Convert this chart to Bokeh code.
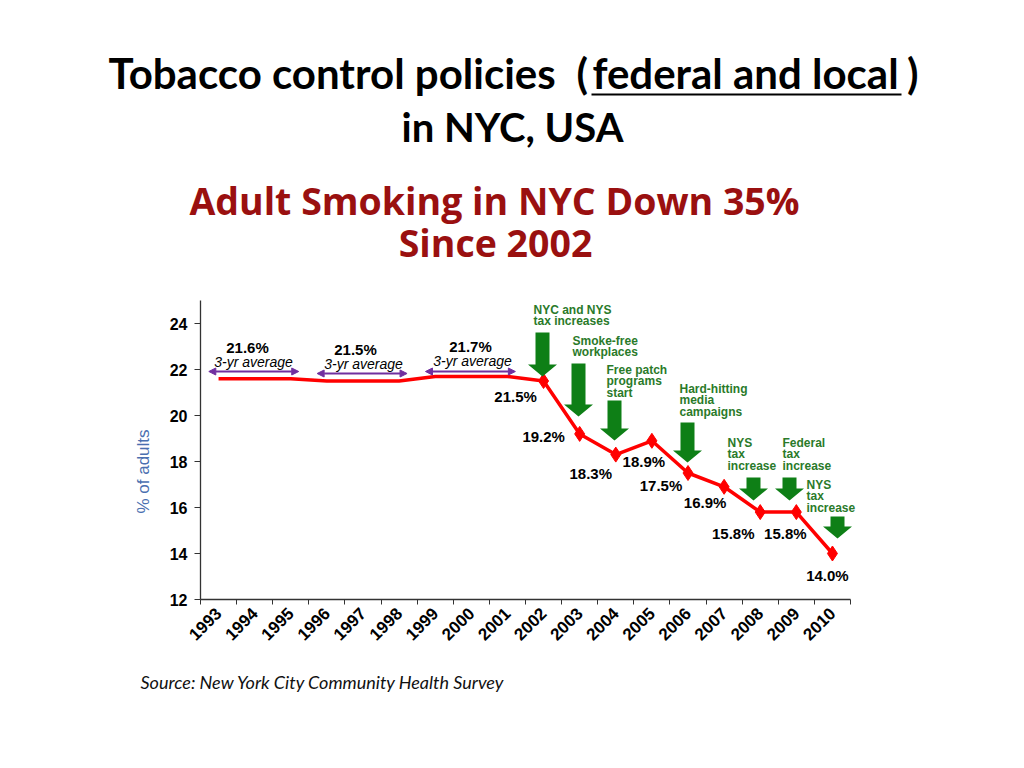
import math
from bokeh.plotting import figure
from bokeh.models import Label, Arrow, NormalHead, FixedTicker, Range1d
from bokeh.core.properties import value
from bokeh.embed import file_html
from bokeh.resources import INLINE

# ---------------- data ----------------
years = list(range(1993, 2011))
year_labels = [str(y) for y in years]
rates = [21.6, 21.6, 21.6, 21.5, 21.5, 21.5, 21.7, 21.7, 21.7,
         21.5, 19.2, 18.3, 18.9, 17.5, 16.9, 15.8, 15.8, 14.0]
marked_years = years[9:]
marked_rates = rates[9:]
avg_values = [21.6, 21.5, 21.7]
avg_first_year = [1993, 1996, 1999]
avg_last_year = [1995, 1998, 2001]
y_ticks = [12, 14, 16, 18, 20, 22, 24]
policy_texts = [
    ["NYC and NYS", "tax increases"],
    ["Smoke-free", "workplaces"],
    ["Free patch", "programs", "start"],
    ["Hard-hitting", "media", "campaigns"],
    ["NYS", "tax", "increase"],
    ["Federal", "tax", "increase"],
    ["NYS", "tax", "increase"],
]

# ---------------- layout helpers ----------------
W, H = 1016, 760
FL, FR, FT, FB = 200, 850, 300, 599          # plot-area edges in canvas px
XA, XB, YA, YB = 1992.5, 2010.5, 12, 25       # plot-area data limits
SX = (FR - FL) / (XB - XA)                    # px per year
SY = (FB - FT) / (YB - YA)                    # px per unit


def px_x(px):
    return XA + (px - FL) / SX


def px_y(py):
    return YA + (FB - py) / SY


p = figure(width=W, height=H, output_backend="svg", toolbar_location=None,
           x_range=Range1d(px_x(0), px_x(W)), y_range=Range1d(px_y(H), px_y(0)),
           min_border=0, min_border_left=0, min_border_right=0,
           min_border_top=0, min_border_bottom=0)
p.outline_line_color = None
p.xgrid.visible = False
p.ygrid.visible = False
p.background_fill_color = "white"
p.border_fill_color = "white"

# axes (fixed inside the canvas)
xa = p.xaxis[0]
xa.fixed_location = YA
xa.bounds = (XA, XB)
xa.ticker = FixedTicker(ticks=years, minor_ticks=[y - 0.5 for y in years] + [years[-1] + 0.5])
xa.major_label_overrides = {y: s for y, s in zip(years, year_labels)}
xa.major_tick_out = 0
xa.major_tick_in = 0
xa.minor_tick_out = 5
xa.minor_tick_in = 0
xa.minor_tick_line_color = "#333333"
xa.axis_line_color = "#333333"
xa.axis_line_width = 1.3
xa.major_label_orientation = math.pi / 4
xa.major_label_standoff = 6
xa.major_label_text_font = "Liberation Sans"
xa.major_label_text_font_style = "bold"
xa.major_label_text_font_size = "17px"
xa.major_label_text_color = "black"

ya = p.yaxis[0]
ya.fixed_location = XA
ya.bounds = (YA, YB)
ya.ticker = FixedTicker(ticks=y_ticks, minor_ticks=[])
ya.major_tick_out = 6
ya.major_tick_in = 0
ya.minor_tick_out = 0
ya.minor_tick_in = 0
ya.major_tick_line_color = "#333333"
ya.axis_line_color = "#333333"
ya.axis_line_width = 1.3
ya.major_label_standoff = 7
ya.major_label_text_font = "Liberation Sans"
ya.major_label_text_font_style = "bold"
ya.major_label_text_font_size = "16px"
ya.major_label_text_color = "black"


def lab(text, px, py, size, color="black", style="bold", font="Liberation Sans",
        align="center", baseline="middle", angle=0.0):
    p.add_layout(Label(x=px_x(px), y=px_y(py), text=text, text_font=font,
                       text_font_size=f"{size}px", text_font_style=style,
                       text_color=color, text_align=align, text_baseline=baseline,
                       angle=angle))


# y-axis title
lab("% of adults", 143, 471, 17, color="#4A6FB0", style="normal", angle=math.pi / 2)

# titles
TS = 42
lab("Tobacco control policies", 108, 72, TS, font="Lato", align="left")
lab("(", 576, 72, TS, font="Lato", align="left")
lab("federal and local", 745, 72, TS, font="Lato")
lab(")", 918, 72, TS, font="Lato", align="right")
lab("in NYC, USA", 512, 126, 40, font="Lato")
p.add_layout(Arrow(start=None, end=None, x_start=px_x(591), y_start=px_y(94),
                   x_end=px_x(901), y_end=px_y(94), line_color="black", line_width=2))
RED_T = "#9A1010"
lab("Adult Smoking in NYC Down 35%", 494, 200, 37.5, color=RED_T, font="Open Sans")
lab("Since 2002", 495, 242, 37.5, color=RED_T, font="Open Sans")
lab("Source: New York City Community Health Survey", 140, 681, 18, style="italic",
    font="Lato", align="left", color="#111111")

# 3-yr averages
PURPLE = "#7030A0"
avg_arrow_py = [371, 373, 371]
avg_label_px = [247, 355, 470]
avg_label_py = [347, 349, 346]
avg_sub_px = [253, 363, 472]
for v, a, b, apy, lx, ly, sx in zip(avg_values, avg_first_year, avg_last_year,
                                    avg_arrow_py, avg_label_px, avg_label_py, avg_sub_px):
    p.add_layout(Arrow(x_start=a - 0.27, x_end=b + 0.22, y_start=px_y(apy), y_end=px_y(apy),
                       line_color=PURPLE, line_width=2,
                       start=NormalHead(size=7, fill_color=PURPLE, line_color=PURPLE),
                       end=NormalHead(size=7, fill_color=PURPLE, line_color=PURPLE)))
    lab(f"{v:.1f}%", lx, ly, 15)
    lab("3-yr average", sx, ly + 14, 14, style="italic")

# main series
RED = "#FF0000"
p.line(years, rates, line_color=RED, line_width=3.5)
p.scatter(marked_years, marked_rates, marker="diamond", size=15, color=RED)

label_dx = [-28, -36, -25, -8, -27, -19, -27, -11, -5]
label_dy = [15, 3, 19, 21, 12, 16, 21, 21, 22]
p.text(x=marked_years, y=marked_rates, text=[f"{v:.1f}%" for v in marked_rates],
       x_offset=label_dx, y_offset=label_dy,
       text_font=value("Liberation Sans"), text_font_style="bold",
       text_font_size="15px", text_align="center", text_baseline="middle",
       text_color="black")

# policy arrows
GREEN = "#0E7F16"
GREEN_T = "#2A7A2A"
arrow_cx = [542, 578, 614, 687, 753, 789, 837]
arrow_top = [332, 363, 400, 422, 477, 477, 516]
arrow_tip = [376, 416, 440, 462, 500, 500, 538]
text_left = [533, 572, 606, 679, 727, 782, 806]
text_top = [309, 340, 369, 388, 442, 442, 484]
xs, ys = [], []
for cx, t, b in zip(arrow_cx, arrow_top, arrow_tip):
    sw, hw, hl = 7, 14.5, 12
    pts = [(cx - sw, t), (cx + sw, t), (cx + sw, b - hl), (cx + hw, b - hl), (cx, b),
           (cx - hw, b - hl), (cx - sw, b - hl)]
    xs.append([px_x(a) for a, _ in pts])
    ys.append([px_y(c) for _, c in pts])
p.patches(xs, ys, fill_color=GREEN, line_color=None)
for lines, lx, ty in zip(policy_texts, text_left, text_top):
    for i, s in enumerate(lines):
        lab(s, lx, ty + i * 11.6, 12, color=GREEN_T, align="left")

open("out.html", "w").write(file_html(p, INLINE))
